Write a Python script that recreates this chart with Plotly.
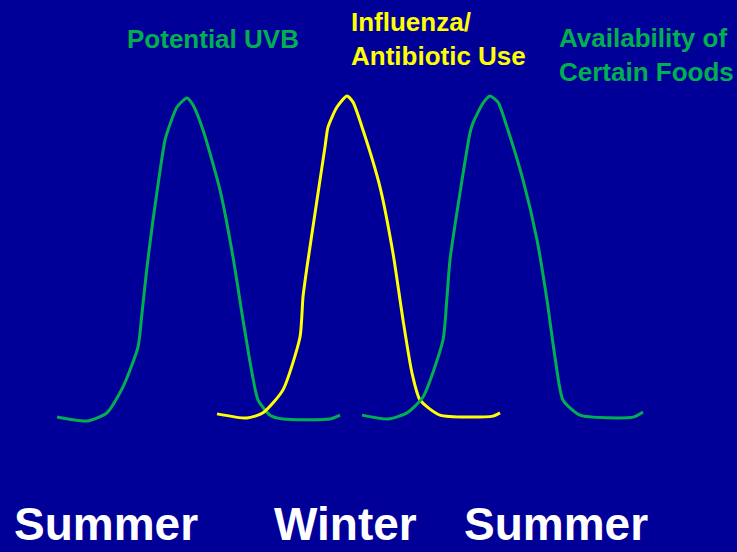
import plotly.graph_objects as go

# position along the year (arbitrary units) and relative level (0 = baseline, 100 = peak)
uvb_x = [57, 87, 107, 123, 138, 142, 147, 153, 165, 168, 177, 187, 193, 203, 220, 233, 243, 252, 258, 270, 283, 330, 340]
uvb_y = [0.9, -0.3, 2.2, 10.2, 22.5, 33.0, 47.2, 61.7, 86.4, 89.5, 96.6, 99.4, 97.2, 89.5, 71.0, 50.3, 30.9, 14.5, 6.2, 1.5, 0.3, 0.3, 1.5]

flu_x = [217, 247, 263, 283, 300, 303, 307, 317, 325, 328, 337, 347, 353, 363, 380, 393, 403, 412, 420, 440, 493, 500]
flu_y = [1.9, 0.6, 2.2, 9.3, 25.6, 38.0, 47.2, 67.9, 84.3, 90.4, 96.6, 100, 98.1, 89.5, 71.9, 51.5, 30.9, 14.5, 6.2, 1.5, 1.2, 2.2]

food_x = [362, 388, 407, 423, 443, 447, 450, 460, 470, 473, 483, 490, 498, 507, 523, 537, 547, 555, 563, 580, 633, 643]
food_y = [1.5, 0.3, 2.2, 7.1, 24.7, 38.0, 49.4, 70.1, 88.6, 91.7, 97.8, 100, 98.1, 90.4, 74.1, 55.6, 37.0, 19.4, 6.2, 1.5, 0.9, 2.5]

seasons = ["Summer", "Winter", "Summer"]

GREEN = "#00B050"
YELLOW = "#FFFF00"
BG = "#000099"

fig = go.Figure()
for xs, ys, col in [(uvb_x, uvb_y, GREEN), (flu_x, flu_y, YELLOW), (food_x, food_y, GREEN)]:
    fig.add_trace(go.Scatter(x=xs, y=ys, mode="lines",
                             line=dict(color=col, width=3, shape="spline", smoothing=0.6),
                             hoverinfo="skip"))

font = "Liberation Sans, Arial, sans-serif"

# series labels
labels = [
    (125, 38.7, "<b>Potential UVB</b>", GREEN),
    (349, 38.7, "<b>Influenza/<br>Antibiotic Use</b>", YELLOW),
    (557, 54.7, "<b>Availability of<br>Certain Foods</b>", GREEN),
]
for px, py, txt, col in labels:
    fig.add_annotation(x=px / 737, y=1 - py / 552, xref="paper", yref="paper",
                       text=txt, showarrow=False, xanchor="left", yanchor="middle",
                       align="left", font=dict(family=font, size=26, color=col))

# season names along the bottom
season_left = [12, 272, 462]
for s, px in zip(seasons, season_left):
    fig.add_annotation(x=px / 737, y=0, xref="paper", yref="paper",
                       text="<b>" + s + "</b>", showarrow=False, xanchor="left", yanchor="bottom",
                       font=dict(family=font, size=46, color="white"))

fig.update_layout(
    width=737, height=552,
    margin=dict(l=0, r=0, t=0, b=0),
    paper_bgcolor=BG, plot_bgcolor=BG,
    showlegend=False,
    xaxis=dict(range=[0, 737], visible=False),
    yaxis=dict(range=[-40.74, 129.63], visible=False),
)

fig.write_html("out.html", config={"displayModeBar": False},
               post_script="document.body.style.margin='0';document.body.style.overflow='hidden';")
